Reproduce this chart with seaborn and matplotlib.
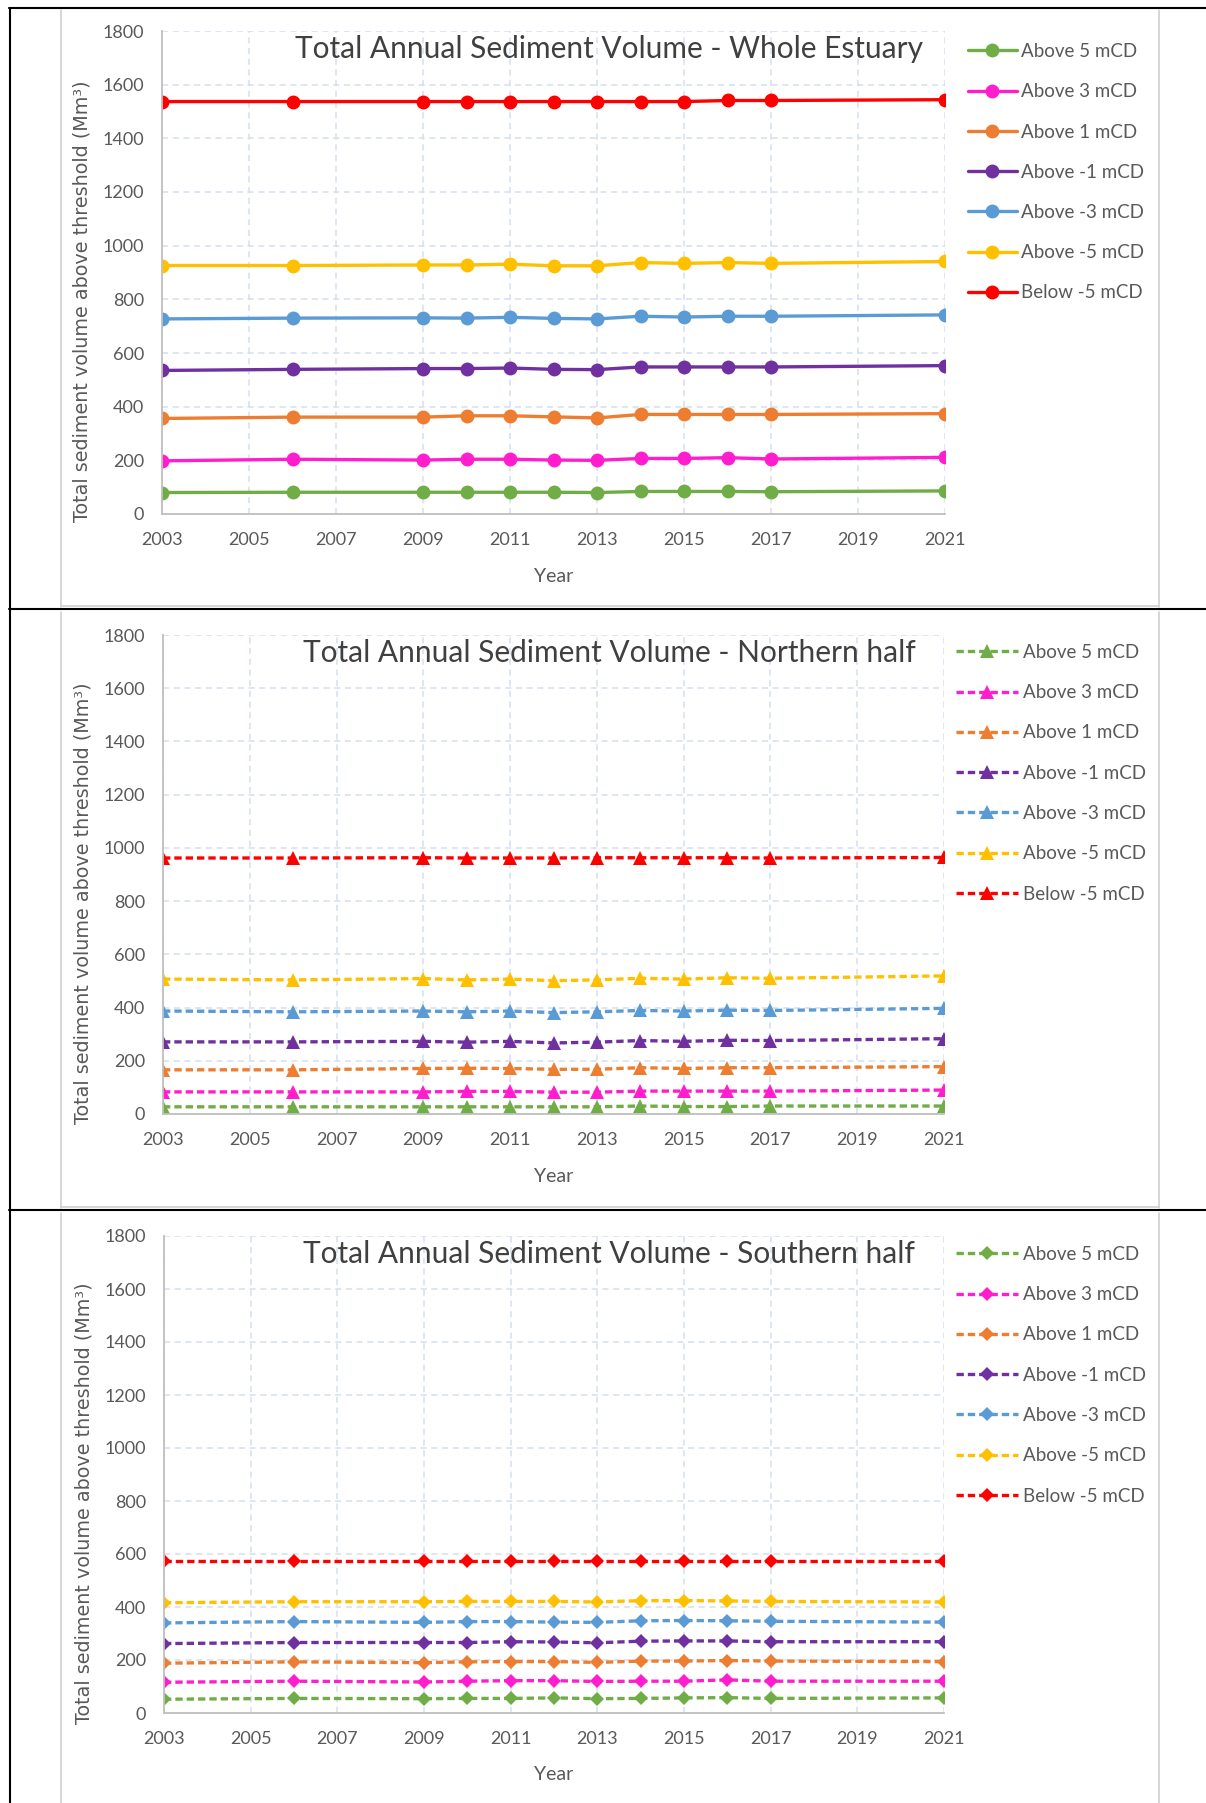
import seaborn as sns
import matplotlib.pyplot as plt
import pandas as pd
import numpy as np
from matplotlib.lines import Line2D

sns.set_style("white")
plt.rcParams['font.family'] = ['Lato', 'DejaVu Sans']

years = [2003, 2006, 2009, 2010, 2011, 2012, 2013, 2014, 2015, 2016, 2017, 2021]
labels = ["Above 5 mCD", "Above 3 mCD", "Above 1 mCD", "Above -1 mCD",
          "Above -3 mCD", "Above -5 mCD", "Below -5 mCD"]
colors = ["#70AD47", "#FF1DCE", "#ED7D31", "#7030A0", "#5B9BD5", "#FFC000", "#FF0000"]

# whole estuary
whole_a5 = [80, 81, 81, 81, 81, 81, 80, 84, 84, 84, 83, 86]
whole_a3 = [198, 204, 201, 204, 204, 201, 200, 207, 207, 210, 205, 211]
whole_a1 = [356, 361, 361, 366, 366, 362, 358, 371, 371, 371, 371, 374]
whole_am1 = [535, 539, 542, 542, 544, 539, 538, 548, 548, 548, 548, 553]
whole_am3 = [727, 730, 731, 730, 733, 729, 727, 737, 734, 737, 737, 742]
whole_am5 = [926, 926, 928, 928, 931, 925, 925, 937, 934, 937, 934, 941]
whole_bm5 = [1537, 1537, 1537, 1537, 1537, 1537, 1537, 1537, 1537, 1541, 1541, 1544]

# northern half
north_a5 = [27, 27, 27, 27, 27, 27, 27, 30, 28, 28, 30, 30]
north_a3 = [83, 83, 83, 85, 85, 82, 82, 86, 86, 86, 86, 90]
north_a1 = [166, 166, 171, 172, 171, 168, 168, 174, 171, 174, 174, 178]
north_am1 = [271, 271, 273, 270, 273, 267, 270, 276, 273, 277, 276, 283]
north_am3 = [387, 384, 387, 384, 387, 381, 384, 389, 387, 390, 389, 397]
north_am5 = [507, 504, 509, 504, 507, 501, 504, 510, 507, 512, 510, 519]
north_bm5 = [962, 962, 963, 962, 962, 962, 963, 963, 963, 963, 962, 964]

# southern half
south_a5 = [52, 55, 54, 55, 55, 57, 54, 55, 57, 58, 55, 57]
south_a3 = [116, 120, 117, 120, 122, 122, 119, 120, 120, 125, 120, 120]
south_a1 = [188, 193, 190, 193, 194, 194, 191, 196, 196, 198, 196, 194]
south_am1 = [262, 266, 266, 266, 269, 268, 265, 271, 272, 272, 269, 269]
south_am3 = [340, 345, 342, 345, 345, 343, 342, 348, 349, 348, 346, 343]
south_am5 = [416, 420, 420, 421, 421, 421, 419, 424, 424, 423, 421, 419]
south_bm5 = [573, 573, 573, 573, 573, 573, 573, 573, 573, 573, 573, 573]

panels = [
    ("Total Annual Sediment Volume - Whole Estuary",
     [whole_a5, whole_a3, whole_a1, whole_am1, whole_am3, whole_am5, whole_bm5], "o", "-"),
    ("Total Annual Sediment Volume - Northern half",
     [north_a5, north_a3, north_a1, north_am1, north_am3, north_am5, north_bm5], "^", "--"),
    ("Total Annual Sediment Volume - Southern half",
     [south_a5, south_a3, south_a1, south_am1, south_am3, south_am5, south_bm5], "D", "--"),
]

W, H = 1206, 1803
fig = plt.figure(figsize=(W / 100, H / 100), dpi=100)

# axes boxes in pixels: left, right, top, bottom
boxes = [(162, 945, 31, 514), (163, 944, 635, 1114), (164, 944, 1236, 1713)]
# legend anchor: handle left x, first text top y
leg_pos = [(968, 43), (956, 644), (956, 1246)]

txt = "#595959"
for (title, series, mk, ls), (l, r, t, b), (lx, ly) in zip(panels, boxes, leg_pos):
    ax = fig.add_axes([l / W, 1 - b / H, (r - l) / W, (b - t) / H])
    for vals, lab, col in zip(series, labels, colors):
        df = pd.DataFrame({"Year": years, "Volume": vals})
        ms = 10 if mk != "D" else 7.5
        sns.lineplot(data=df, x="Year", y="Volume", ax=ax, color=col, marker=mk,
                     markersize=ms, markeredgewidth=0, linewidth=2.4, linestyle=ls,
                     dashes=False, label=lab)
        if ls == "--":
            ax.lines[-1].set_dashes([2.2, 1.2])
    ax.set_xlim(2003, 2021)
    ax.set_ylim(0, 1800)
    ax.set_xticks(np.arange(2003, 2022, 2))
    ax.set_yticks(np.arange(0, 1801, 200))
    ax.grid(True, color="#D6DFF0", linestyle=(0, (4, 3)), linewidth=1.1)
    ax.set_axisbelow(True)
    for s in ["top", "right"]:
        ax.spines[s].set_visible(False)
    for s in ["left", "bottom"]:
        ax.spines[s].set_color("#BFBFBF")
        ax.spines[s].set_linewidth(1.3)
    ax.tick_params(axis="both", labelsize=13, colors=txt, length=0, pad=13)
    ax.set_xlabel("Year", fontsize=14, color=txt, labelpad=14)
    ax.set_ylabel("Total sediment volume above threshold (Mm³)", fontsize=13.8,
                  color=txt, family=["DejaVu Sans"], labelpad=8)
    ax.yaxis.label.set_y(0.44)
    ax.text(0.571, 0.963, title, transform=ax.transAxes, ha="center", va="center",
            fontsize=21.5, color="#404040")
    leg = ax.legend(loc="upper left", bbox_to_anchor=(lx / W, 1 - ly / H),
                    bbox_transform=fig.transFigure, frameon=False, fontsize=13.5,
                    handlelength=2.6 if ls == "-" else 3.3, handletextpad=0.25,
                    labelspacing=1.24, borderpad=0, borderaxespad=0)
    for t_ in leg.get_texts():
        t_.set_color(txt)

# table borders and chart frames
def hline(y, x0, x1, c="black", lw=1.5):
    fig.add_artist(Line2D([x0 / W, x1 / W], [1 - y / H, 1 - y / H], color=c, lw=lw))

def vline(x, y0, y1, c="black", lw=1.5):
    fig.add_artist(Line2D([x / W, x / W], [1 - y0 / H, 1 - y1 / H], color=c, lw=lw))

for y in [8, 609, 1210]:
    hline(y, 9, W)
vline(10, 8, H)
for y0, y1 in [(10, 607), (612, 1208), (1213, H)]:
    vline(61, y0, y1, c="#D0D0D0", lw=1.2)
    vline(1159, y0, y1, c="#D0D0D0", lw=1.2)
for y in [606, 1207]:
    hline(y, 61, 1159, c="#D0D0D0", lw=1.2)

fig.savefig("out.png", dpi=100)
